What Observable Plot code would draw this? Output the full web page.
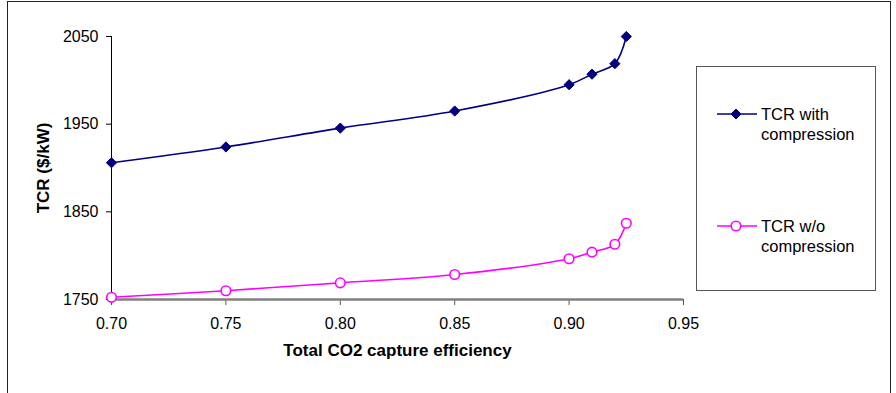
<!DOCTYPE html>
<html>
<head>
<meta charset="utf-8">
<script src="https://cdn.jsdelivr.net/npm/d3@7"></script>
<script src="https://cdn.jsdelivr.net/npm/@observablehq/plot@0.6"></script>
<style>
  html, body { margin: 0; padding: 0; background: #fff; }
  #chart { position: relative; width: 896px; height: 393px; overflow: hidden; font-family: "Liberation Sans", Arial, sans-serif; }
  #frame { position: absolute; left: 7px; top: 1px; width: 884px; height: 420px; border: 1.5px solid #222; box-sizing: border-box; }
  #plot { position: absolute; left: 0; top: 0; }
  #legend { position: absolute; left: 696px; top: 66px; width: 180px; height: 225px; border: 1.5px solid #555; box-sizing: border-box; }
  .entry { position: absolute; left: 20px; display: flex; align-items: flex-start; }
  .entry svg { flex: none; }
  .entry .txt { font-size: 16.5px; line-height: 20px; color: #000; margin-left: 4px; }
</style>
</head>
<body>
<div id="chart">
  <div id="frame"></div>
  <div id="plot"></div>
  <div id="legend"></div>
</div>
<script>
// Capture efficiency (fraction) and total capital requirement, $/kW
const efficiency = [0.70, 0.75, 0.80, 0.85, 0.90, 0.91, 0.92, 0.925];
const tcrWith = [1906, 1924, 1945.5, 1965, 1995, 2007, 2019, 2050];
const tcrWithout = [1752.5, 1760, 1769, 1778.5, 1796.5, 1804, 1813, 1837];

const xTicks = [0.70, 0.75, 0.80, 0.85, 0.90, 0.95];
const yTicks = [1750, 1850, 1950, 2050];

const seriesNames = ["TCR with\ncompression", "TCR w/o\ncompression"];
const seriesColors = ["#000080", "#FF00FF"];

const rowsWith = efficiency.map((e, i) => ({x: e, y: tcrWith[i]}));
const rowsWithout = efficiency.map((e, i) => ({x: e, y: tcrWithout[i]}));

const plot = Plot.plot({
  width: 896,
  height: 393,
  marginLeft: 111,
  marginRight: 213,
  marginTop: 36,
  marginBottom: 94,
  style: {fontFamily: "'Liberation Sans', Arial, sans-serif", fontSize: "16px", color: "#000", background: "transparent"},
  x: {domain: [0.70, 0.95]},
  y: {domain: [1750, 2050]},
  marks: [
    Plot.axisX({ticks: xTicks, tickFormat: d3.format(".2f"), tickSize: 6, tickPadding: 12, stroke: "#555", label: null}),
    Plot.axisY({ticks: yTicks, tickFormat: d => String(d), tickSize: 5, tickPadding: 8, label: null}),
    Plot.ruleY([1750], {stroke: "#808080", strokeWidth: 2.5}),
    Plot.ruleX([0.70], {stroke: "#000", strokeWidth: 1}),
    Plot.line(rowsWith, {x: "x", y: "y", stroke: seriesColors[0], strokeWidth: 1.6, curve: "catmull-rom"}),
    Plot.dot(rowsWith, {x: "x", y: "y", symbol: "diamond2", r: 4.6, fill: seriesColors[0], stroke: seriesColors[0], strokeWidth: 1}),
    Plot.line(rowsWithout, {x: "x", y: "y", stroke: seriesColors[1], strokeWidth: 1.6, curve: "catmull-rom"}),
    Plot.dot(rowsWithout, {x: "x", y: "y", r: 4.8, fill: "#fff", stroke: seriesColors[1], strokeWidth: 1.6}),
    Plot.text(["Total CO2 capture efficiency"], {frameAnchor: "bottom", dy: 56, textAnchor: "middle", fontWeight: "bold", fontSize: 17, fill: "#000"}),
    Plot.text(["TCR ($/kW)"], {frameAnchor: "left", dx: -68, rotate: -90, textAnchor: "middle", fontWeight: "bold", fontSize: 17, fill: "#000"})
  ]
});
document.getElementById("plot").appendChild(plot);

// Legend: line with marker, two-line label
const legend = document.getElementById("legend");
const entryTops = [37, 149];
seriesNames.forEach((name, i) => {
  const entry = document.createElement("div");
  entry.className = "entry";
  entry.style.top = entryTops[i] + "px";
  const s = d3.create("svg").attr("width", 40).attr("height", 20);
  s.append("line").attr("x1", 0).attr("x2", 40).attr("y1", 10).attr("y2", 10)
    .attr("stroke", seriesColors[i]).attr("stroke-width", 1.6);
  if (i === 0) {
    s.append("path").attr("d", "M19,5L24,10L19,15L14,10Z").attr("fill", seriesColors[i]).attr("stroke", seriesColors[i]);
  } else {
    s.append("circle").attr("cx", 19).attr("cy", 10).attr("r", 4.8).attr("fill", "#fff")
      .attr("stroke", seriesColors[i]).attr("stroke-width", 1.6);
  }
  entry.appendChild(s.node());
  const t = document.createElement("div");
  t.className = "txt";
  t.innerHTML = name.split("\n").join("<br>");
  entry.appendChild(t);
  legend.appendChild(entry);
});
</script>
</body>
</html>
